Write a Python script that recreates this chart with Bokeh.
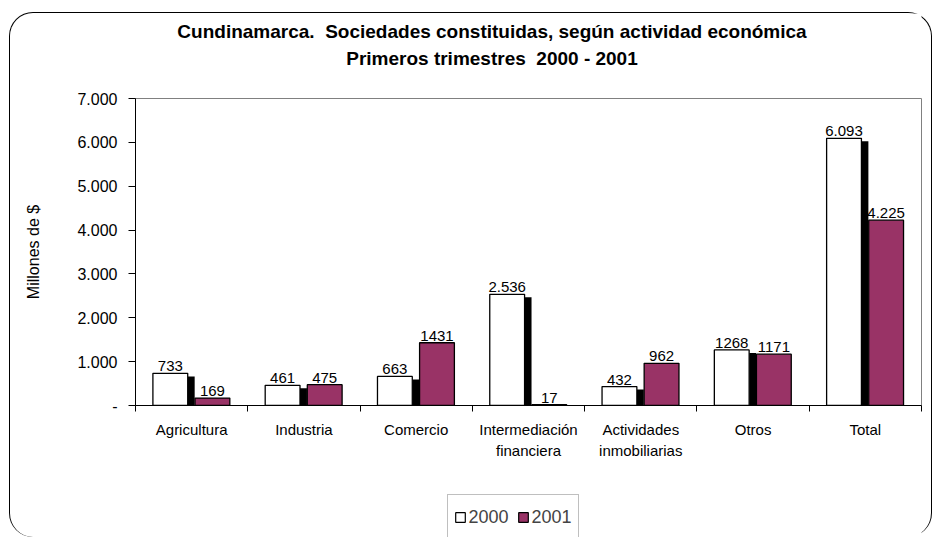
from bokeh.plotting import figure
from bokeh.models import Range1d, FixedTicker, Legend, LegendItem, Label
from bokeh.layouts import column
from bokeh.embed import file_html
from bokeh.resources import INLINE
from bokeh.core.properties import value

# ---------------- data ----------------
categories = ["Agricultura", "Industria", "Comercio", "Intermediación\nfinanciera",
              "Actividades\ninmobiliarias", "Otros", "Total"]
values_2000 = [733, 461, 663, 2536, 432, 1268, 6093]
values_2001 = [169, 475, 1431, 17, 962, 1171, 4225]
labels_2000 = ["733", "461", "663", "2.536", "432", "1268", "6.093"]
labels_2001 = ["169", "475", "1431", "17", "962", "1171", "4.225"]
series_names = ["2000", "2001"]
y_ticks = [0, 1000, 2000, 3000, 4000, 5000, 6000, 7000]
y_tick_labels = ["-", "1.000", "2.000", "3.000", "4.000", "5.000", "6.000", "7.000"]
title_lines = ["Cundinamarca.  Sociedades constituidas, según actividad económica",
               "Primeros trimestres  2000 - 2001"]
y_axis_title = "Millones de $"

FONT = "Liberation Sans"
MAROON = "#993366"
W = 921
BORDER_L, BORDER_R = 125, 10
FRAME_W = W - BORDER_L - BORDER_R
H_HEAD, H_MAIN, H_FOOT = 72, 384, 68

n = len(categories)
centers = [i + 0.5 for i in range(n)]
x_2000 = [c - 0.19 for c in centers]
x_2001 = [c + 0.185 for c in centers]
x_shadow = [c - 0.004 for c in centers]
shadow_top = [max(v - 70, 0) for v in values_2000]


def blank(height):
    f = figure(width=W, height=height, x_range=Range1d(0, FRAME_W), y_range=Range1d(0, height),
               output_backend="svg", toolbar_location=None, title=None,
               x_axis_location=None, y_axis_location=None,
               min_border_left=BORDER_L, min_border_right=BORDER_R,
               min_border_top=0, min_border_bottom=0)
    f.outline_line_color = None
    f.background_fill_color = "white"
    f.border_fill_alpha = 0
    f.xgrid.visible = False
    f.ygrid.visible = False
    return f


# ---------------- header (titles) ----------------
head = blank(H_HEAD)
for txt, yy in zip(title_lines, [54.5, 27.5]):
    head.add_layout(Label(x=356.5, y=yy, text=txt.replace("  ", "\u00a0 "),
                          text_align="center", text_baseline="alphabetic",
                          text_font=FONT, text_font_size="19px", text_font_style="bold",
                          text_color="black"))

# ---------------- main chart ----------------
p = figure(width=W, height=H_MAIN, x_range=Range1d(0, n), y_range=Range1d(0, 7000),
           output_backend="svg", toolbar_location=None, title=None,
           min_border_left=BORDER_L, min_border_right=BORDER_R,
           min_border_top=13, min_border_bottom=64)
p.background_fill_color = "white"
p.border_fill_alpha = 0
p.outline_line_color = "#808080"
p.outline_line_width = 1
p.xgrid.visible = False
p.ygrid.visible = False

yax = p.yaxis[0]
yax.ticker = FixedTicker(ticks=y_ticks)
yax.major_label_overrides = {t: l for t, l in zip(y_ticks, y_tick_labels)}
yax.minor_tick_line_color = None
yax.major_tick_out = 7
yax.major_tick_in = 0
yax.major_label_standoff = 11
yax.major_label_text_font = FONT
yax.major_label_text_font_size = "16px"
yax.major_label_text_color = "black"
yax.axis_line_color = "black"
yax.major_tick_line_color = "black"
yax.axis_label = y_axis_title
yax.axis_label_text_font = FONT
yax.axis_label_text_font_size = "16px"
yax.axis_label_text_font_style = "normal"
yax.axis_label_text_color = "black"
yax.axis_label_standoff = 32

xax = p.xaxis[0]
xax.ticker = FixedTicker(ticks=centers, minor_ticks=list(range(n + 1)))
xax.major_label_overrides = {c: cat for c, cat in zip(centers, categories)}
xax.major_tick_line_color = None
xax.major_tick_out = 0
xax.major_tick_in = 0
xax.minor_tick_line_color = "black"
xax.minor_tick_out = 6
xax.minor_tick_in = 0
xax.axis_line_color = "black"
xax.major_label_standoff = 9
xax.major_label_text_font = FONT
xax.major_label_text_font_size = "15px"
xax.major_label_text_line_height = 1.25
xax.major_label_text_color = "black"

p.vbar(x=x_shadow, top=shadow_top, width=0.062, fill_color="black", line_color=None)
p.vbar(x=x_2000, top=values_2000, width=0.31, fill_color="white",
       line_color="black", line_width=1.3)
p.vbar(x=x_2001, top=values_2001, width=0.31, fill_color=MAROON,
       line_color="black", line_width=1.3)

for xs, ys, labs in ((x_2000, values_2000, labels_2000), (x_2001, values_2001, labels_2001)):
    p.text(x=xs, y=ys, text=labs, text_align="center", text_baseline="bottom",
           y_offset=-2, text_font=value(FONT), text_font_size="15px", text_color="black")

# ---------------- footer (legend) ----------------
foot = blank(H_FOOT)
k2000 = foot.vbar(x=x_2000, top=values_2000, width=0.31, fill_color="white",
                  line_color="black", line_width=1.2, visible=False)
k2001 = foot.vbar(x=x_2001, top=values_2001, width=0.31, fill_color=MAROON,
                  line_color="black", line_width=1.2, visible=False)
legend = Legend(items=[LegendItem(label=series_names[0], renderers=[k2000]),
                       LegendItem(label=series_names[1], renderers=[k2001])],
                orientation="horizontal", location=(311.5, -3),
                glyph_width=12, glyph_height=12, label_standoff=3, spacing=8,
                padding=6, margin=0, label_height=32,
                label_text_font=FONT, label_text_font_size="18px",
                border_line_color="#808080", border_line_width=1,
                background_fill_color="white", background_fill_alpha=1,
                inactive_fill_alpha=0)
foot.add_layout(legend, "center")

layout = column(head, p, foot, spacing=0)
layout.styles = {"margin-left": "9px", "margin-top": "12px",
                 "border": "1.5px solid black", "border-bottom": "0px",
                 "border-radius": "24px"}

open("out.html", "w").write(file_html(layout, INLINE))
